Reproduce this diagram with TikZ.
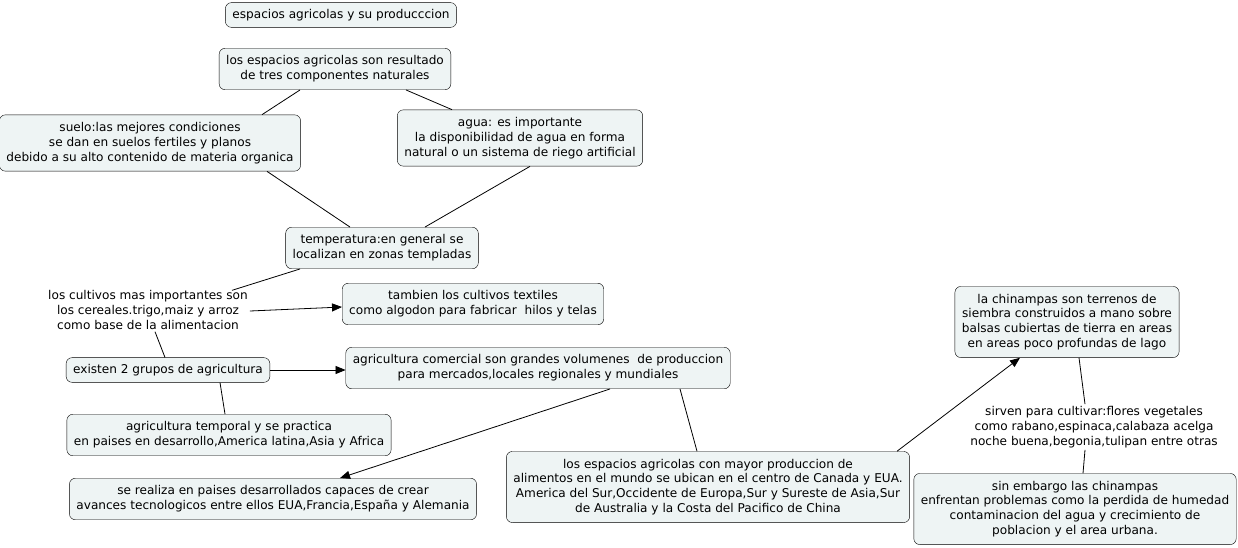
\documentclass[tikz,border=0pt]{standalone}
\usepackage{fontspec}
\setmainfont{DejaVu Sans}
\usepackage{tikz}
\usetikzlibrary{arrows.meta}
\definecolor{cmapfill}{HTML}{EEF4F4}

\begin{document}
\begin{tikzpicture}[x=1pt,y=-1pt,>={Triangle[length=10pt,width=8pt]},
  every node/.style={font=\fontsize{12.1}{14.8}\selectfont,align=center},
  concept/.style={draw,fill=cmapfill,rounded corners=6pt,inner xsep=7pt,inner ysep=7.5pt},
  phrase/.style={inner sep=2pt},
  link/.style={draw,line width=0.8pt}]
\useasboundingbox (0,0) rectangle (1238,547);
\node[concept,inner ysep=6.5pt] (title) at (341,15) {espacios agricolas y su producccion};
\node[concept] (tres) at (335,69) {los espacios agricolas son resultado\\ de tres componentes naturales};
\node[concept] (suelo) at (150,143) {suelo:las mejores condiciones\\se dan en suelos fertiles y planos\\debido a su alto contenido de materia organica};
\node[concept] (agua) at (520,138) {agua: es importante\\la disponibilidad de agua en forma\\natural o un sistema de riego artificial};
\node[concept] (temp) at (382,248) {temperatura:en general se\\localizan en zonas templadas};
\node[phrase] (cultivos) at (148,310) {los cultivos mas importantes son\\los cereales.trigo,maiz y arroz\\como base de la alimentacion};
\node[concept] (textil) at (473,304) {tambien los cultivos textiles\\como algodon para fabricar\ \ hilos y telas};
\node[concept,inner ysep=6.5pt] (grupos) at (168,370) {existen 2 grupos de agricultura};
\node[concept] (comercial) at (538,368) {agricultura comercial son grandes volumenes\ \ de produccion\\para mercados,locales regionales y mundiales};
\node[concept] (temporal) at (229,435) {agricultura temporal y se practica\\en paises en desarrollo,America latina,Asia y Africa};
\node[concept] (desarr) at (273,499) {se realiza en paises desarrollados capaces de crear\\avances tecnologicos entre ellos EUA,Francia,España y Alemania};
\node[concept] (mayor) at (708,487) {los espacios agricolas con mayor produccion de\\alimentos en el mundo se ubican en el centro de Canada y EUA.\\America del Sur,Occidente de Europa,Sur y Sureste de Asia,Sur\\de Australia y la Costa del Pacifico de China};
\node[concept] (chinam) at (1067,322) {la chinampas son terrenos de\\siembra construidos a mano sobre\\balsas cubiertas de tierra en areas\\en areas poco profundas de lago};
\node[phrase] (sirven) at (1094,427) {sirven para cultivar:flores vegetales\\como rabano,espinaca,calabaza acelga\\noche buena,begonia,tulipan entre otras};
\node[concept] (embargo) at (1075,509) {sin embargo las chinampas\\enfrentan problemas como la perdida de humedad\\contaminacion del agua y crecimiento de\\poblacion y el area urbana.};
% enlaces
\draw[link] ([xshift=-35pt]tres.south) -- ([xshift=112pt]suelo.north);
\draw[link] ([xshift=71pt]tres.south) -- ([xshift=-68pt]agua.north);
\draw[link] ([xshift=117pt]suelo.south) -- ([xshift=-32pt]temp.north);
\draw[link] ([xshift=10pt]agua.south) -- ([xshift=43pt]temp.north);
\draw[link] ([xshift=-82pt]temp.south) -- ([xshift=84pt,yshift=-2pt]cultivos.north);
\draw[link,->] ([yshift=-1pt]cultivos.east) -- ([yshift=-3pt]textil.west);
\draw[link] ([xshift=7pt]cultivos.south) -- ([xshift=-3pt]grupos.north);
\draw[link,->] (grupos.east) -- (grupos.east -| comercial.west);
\draw[link] ([xshift=52pt]grupos.south) -- ([xshift=-4pt]temporal.north);
\draw[link,->] ([xshift=72pt]comercial.south) -- ([xshift=67pt]desarr.north);
\draw[link] ([xshift=142pt]comercial.south) -- ([xshift=-11pt]mayor.north);
\draw[link,->] ([xshift=189pt]mayor.north) -- ([xshift=-47pt]chinam.south);
\draw[link] ([xshift=12pt]chinam.south) -- ([xshift=-9pt]sirven.north);
\draw[link] ([xshift=-9pt]sirven.south) -- ([xshift=8pt]embargo.north);
\end{tikzpicture}
\end{document}
